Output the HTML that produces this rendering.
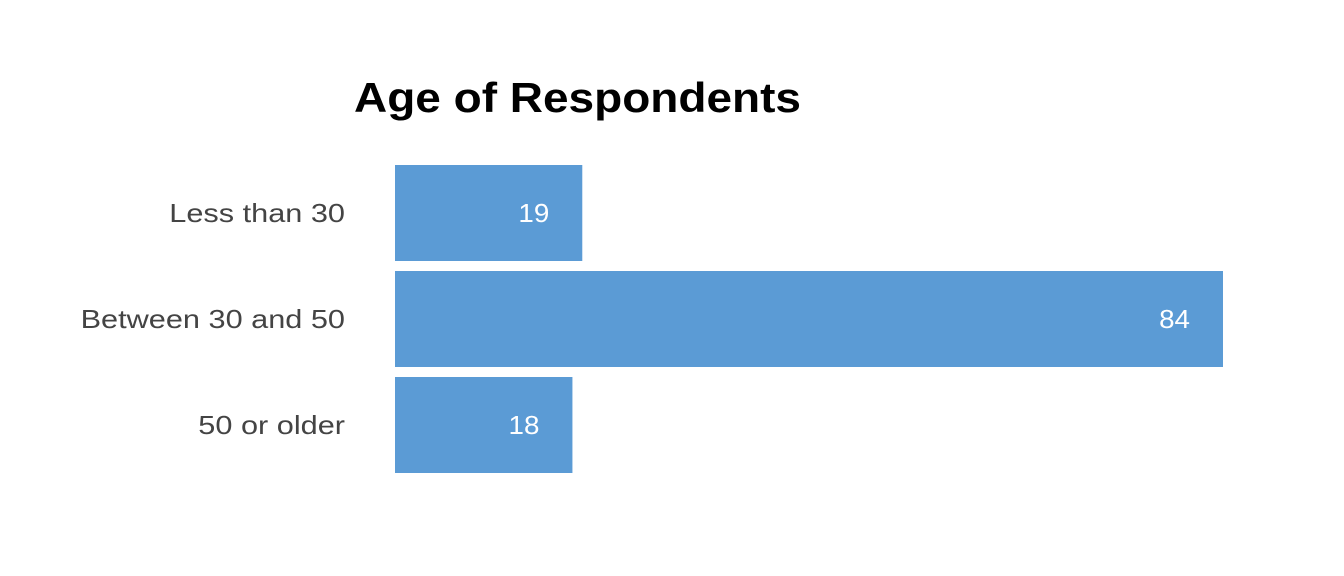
<!DOCTYPE html>
<html><head><meta charset="utf-8">
<style>
html,body{margin:0;padding:0;background:#fff;}
svg{display:block;font-family:"Liberation Sans",sans-serif;}
</style></head>
<body>
<svg width="1344" height="576" id="chart">
<text x="354" y="112" font-size="42" font-weight="bold" fill="#000" textLength="447" lengthAdjust="spacingAndGlyphs">Age of Respondents</text>
</svg>
<script>
const categories = ["Less than 30", "Between 30 and 50", "50 or older"];
const values = [19, 84, 18];

const svg = document.getElementById('chart');
const NS = 'http://www.w3.org/2000/svg';
const x0 = 395, pxPerUnit = (1223 - 395) / 84;
const xScale = v => x0 + v * pxPerUnit;
const bandTop = 165, bandStep = 106, barH = 96;
const yScale = i => bandTop + i * bandStep;
const widen = 1.18;

categories.forEach((c, i) => {
  const y = yScale(i);
  const r = document.createElementNS(NS, 'rect');
  r.setAttribute('x', x0);
  r.setAttribute('y', y);
  r.setAttribute('width', xScale(values[i]) - x0);
  r.setAttribute('height', barH);
  r.setAttribute('fill', '#5b9bd5');
  
  
  svg.appendChild(r);

  const l = document.createElementNS(NS, 'text');
  l.setAttribute('x', 345);
  l.setAttribute('y', y + barH / 2 + 9);
  l.setAttribute('text-anchor', 'end');
  l.setAttribute('font-size', '26');
  l.setAttribute('fill', '#444');
  l.textContent = c;
  
  
  svg.appendChild(l);
  const w = l.getComputedTextLength();
  l.setAttribute('textLength', (w * widen).toFixed(1));
  l.setAttribute('lengthAdjust', 'spacingAndGlyphs');

  const v = document.createElementNS(NS, 'text');
  v.setAttribute('x', xScale(values[i]) - 33);
  v.setAttribute('y', y + barH / 2 + 9);
  v.setAttribute('text-anchor', 'end');
  v.setAttribute('font-size', '26');
  v.setAttribute('fill', '#fff');
  v.textContent = values[i];
  
  
  svg.appendChild(v);
  const vw = v.getComputedTextLength();
  v.setAttribute('textLength', (vw * 1.07).toFixed(1));
  v.setAttribute('lengthAdjust', 'spacingAndGlyphs');
});
</script>
</body></html>
